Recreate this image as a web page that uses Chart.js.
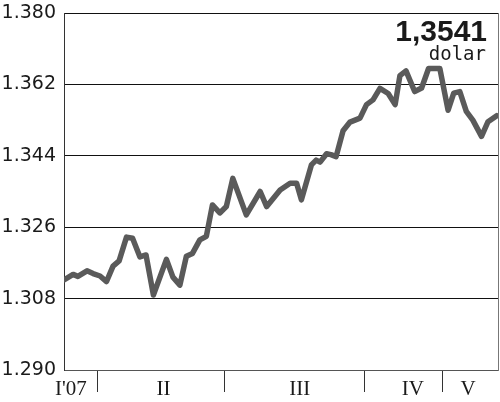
<!DOCTYPE html>
<html>
<head>
<meta charset="utf-8">
<script src="https://cdn.jsdelivr.net/npm/chart.js@4"></script>
<style>
  html, body { margin: 0; padding: 0; background: #fff; }
  canvas { display: block; }
</style>
</head>
<body>
<canvas id="c" width="500" height="402"></canvas>
<script>
// Position along the time axis (0 = start of chart, 100 = end)
const dayPos = [0, 2.1, 3.2, 5.3, 6.7, 8.3, 9.8, 11.3, 12.7, 14.4,
  15.8, 17.5, 18.9, 20.6, 23.6, 25.1, 26.7, 28.2, 29.6, 31.3,
  32.8, 34.2, 35.9, 37.4, 38.9, 42.0, 45.2, 46.7, 49.8, 52.1,
  53.6, 54.7, 57.0, 58.1, 59.0, 60.5, 61.5, 62.7, 64.3, 65.9,
  68.2, 69.7, 71.2, 72.8, 74.7, 76.3, 77.4, 78.8, 80.8, 82.4,
  84.0, 86.6, 88.5, 89.8, 91.2, 92.7, 94.2, 96.2, 97.7, 99.7];
// EUR/USD rate
const rate = [1.3127, 1.3141, 1.3136, 1.3150, 1.3143, 1.3137, 1.3123, 1.3162, 1.3175, 1.3235,
  1.3232, 1.3185, 1.3190, 1.3089, 1.3179, 1.3134, 1.3114, 1.3187, 1.3194, 1.3228,
  1.3237, 1.3316, 1.3296, 1.3312, 1.3383, 1.3291, 1.3350, 1.3312, 1.3354, 1.3371,
  1.3371, 1.3329, 1.3417, 1.3429, 1.3424, 1.3445, 1.3443, 1.3438, 1.3503, 1.3525,
  1.3535, 1.3569, 1.3581, 1.3610, 1.3597, 1.3569, 1.3642, 1.3654, 1.3602, 1.3611,
  1.3660, 1.3660, 1.3555, 1.3598, 1.3602, 1.3552, 1.3530, 1.3489, 1.3526, 1.3541];
// Y ticks
const yTicks = [1.290, 1.308, 1.326, 1.344, 1.362, 1.380];
// Month separators and labels
const monthBounds = [7.8, 37.0, 69.3, 87.1];
const monthLabels = ["I'07", "II", "III", "IV", "V"];
const monthLabelPos = [1.6, 22.9, 54.3, 80.4, 93.1];
const unitLabel = "dolar";

const points = dayPos.map((d, i) => ({ x: d, y: rate[i] }));
const xTickValues = monthLabelPos.concat(monthBounds).sort((a, b) => a - b);

const annotate = {
  id: 'annotate',
  afterDraw(chart) {
    const ctx = chart.ctx;
    const a = chart.chartArea;
    const last = rate[rate.length - 1].toFixed(4).replace('.', ',');
    ctx.save();
    ctx.fillStyle = '#1a1a1a';
    ctx.textAlign = 'right';
    ctx.textBaseline = 'alphabetic';
    ctx.font = 'bold 30px "Liberation Sans", Arial, sans-serif';
    ctx.fillText(last, a.right - 11, a.top + 28);
    ctx.font = '19px "DejaVu Sans Mono", monospace';
    ctx.fillText(unitLabel, a.right - 12, a.top + 47);
    ctx.restore();
  }
};

new Chart(document.getElementById('c'), {
  type: 'line',
  data: {
    datasets: [{
      data: points,
      borderColor: '#5a5a5a',
      borderWidth: 5.5,
      borderJoinStyle: 'round',
      borderCapStyle: 'round',
      pointRadius: 0,
      tension: 0,
      fill: false
    }]
  },
  options: {
    responsive: false,
    animation: false,
    devicePixelRatio: 1,
    layout: { padding: { top: 13, right: 2, bottom: 0, left: 0 } },
    plugins: { legend: { display: false }, tooltip: { enabled: false } },
    scales: {
      x: {
        type: 'linear',
        min: 0, max: 100,
        afterBuildTicks(s) { s.ticks = xTickValues.map(v => ({ value: v })); },
        afterFit(s) { s.height = 32; },
        grid: {
          display: true,
          drawOnChartArea: false,
          drawTicks: true,
          tickLength: 22,
          tickWidth: 1,
          tickColor: (c) => (c.tick && monthBounds.includes(c.tick.value)) ? '#333' : 'rgba(0,0,0,0)'
        },
        border: { display: true, color: '#555', width: 1 },
        ticks: {
          autoSkip: false,
          maxRotation: 0,
          padding: -15,
          color: '#1a1a1a',
          font: { family: '"Liberation Serif", "Times New Roman", serif', size: 21 },
          callback: (v) => {
            const i = monthLabelPos.indexOf(v);
            return i >= 0 ? monthLabels[i] : '';
          }
        }
      },
      y: {
        type: 'linear',
        min: 1.290, max: 1.380,
        afterBuildTicks(s) { s.ticks = yTicks.map(v => ({ value: v })); },
        afterFit(s) { s.width = 64; },
        grid: { color: '#111', lineWidth: 1, drawTicks: true, tickLength: 8, tickColor: 'rgba(0,0,0,0)' },
        border: { display: true, color: '#333', width: 1 },
        ticks: {
          padding: 0,
          color: '#1a1a1a',
          font: { family: '"DejaVu Sans", sans-serif', size: 19 },
          callback: (v) => v.toFixed(3)
        }
      },
      y2: {
        type: 'linear',
        position: 'right',
        min: 1.290, max: 1.380,
        afterFit(s) { s.width = 0; },
        grid: { display: false },
        border: { display: true, color: '#777', width: 1 },
        ticks: { display: false }
      }
    }
  },
  plugins: [annotate]
});
</script>
</body>
</html>
